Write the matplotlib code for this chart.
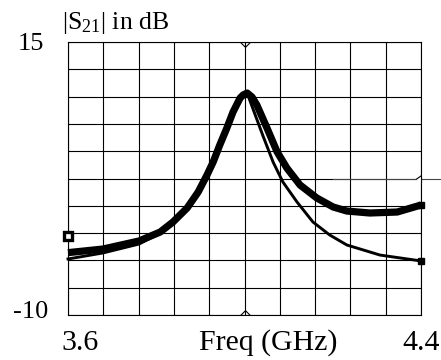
import matplotlib
matplotlib.use("Agg")
import matplotlib.pyplot as plt
import numpy as np

plt.rcParams["font.family"] = ["Liberation Serif", "DejaVu Serif"]
plt.rcParams["mathtext.fontset"] = "custom"
plt.rcParams["mathtext.rm"] = "Liberation Serif"
plt.rcParams["mathtext.it"] = "Liberation Serif:italic"

# frequency (GHz) / |S21| (dB)
freq_meas = [3.600, 3.679, 3.761, 3.809, 3.838, 3.870, 3.895, 3.915, 3.929, 3.944,
             3.960, 3.974, 3.990, 3.997, 4.006, 4.017, 4.028, 4.051, 4.074, 4.096,
             4.126, 4.164, 4.201, 4.232, 4.284, 4.346, 4.400]
s21_meas = [-4.29, -3.96, -3.22, -2.40, -1.48, -0.20, 1.26, 2.82, 4.01, 5.57,
            7.12, 8.59, 9.87, 10.15, 10.33, 9.96, 9.23, 7.12, 4.93, 3.46,
            1.90, 0.71, -0.11, -0.48, -0.66, -0.57, 0.07]

freq_sim = [3.600, 3.679, 3.761, 3.809, 3.838, 3.870, 3.895, 3.915, 3.929, 3.944,
            3.960, 3.974, 3.990, 3.997, 4.006, 4.019, 4.042, 4.065, 4.087, 4.119,
            4.155, 4.193, 4.232, 4.307, 4.400]
s21_sim = [-4.87, -4.32, -3.50, -2.49, -1.57, -0.29, 1.17, 2.73, 3.92, 5.48,
           7.03, 8.50, 9.78, 10.12, 10.33, 8.90, 6.39, 3.99, 2.18, 0.35,
           -1.48, -2.67, -3.59, -4.51, -5.05]

stray_freq = [3.6]
stray_s21 = [-2.77]

marker_freq = 4.0
ref_level = 2.5

xmin, xmax = 3.6, 4.4
ymin, ymax = -10, 15

fig = plt.figure(figsize=(4.41, 3.6), dpi=100)
ax = fig.add_axes([68 / 441, 45 / 360, 353 / 441, 273 / 360])
ax.set_xlim(xmin, xmax)
ax.set_ylim(ymin, ymax)

ax.set_xticks(np.linspace(xmin, xmax, 11))
ax.set_yticks(np.linspace(ymin, ymax, 11))
ax.tick_params(length=0, labelbottom=False, labelleft=False)
ax.grid(True, color="black", linewidth=0.8)
for sp in ax.spines.values():
    sp.set_linewidth(0.8)

ax.plot(freq_meas, s21_meas, color="black", linewidth=5.2, solid_capstyle="butt",
        solid_joinstyle="round", clip_on=False, zorder=3)
ax.plot(freq_sim, s21_sim, color="black", linewidth=2.1, clip_on=False, zorder=4)
ax.plot(freq_meas[-1:], s21_meas[-1:], "s", color="black", ms=5, clip_on=False, zorder=5)
ax.plot(freq_sim[-1:], s21_sim[-1:], "s", color="black", ms=5, clip_on=False, zorder=5)
ax.plot(stray_freq, stray_s21, "s", mfc="white", mec="black", ms=5.5, mew=2.4,
        clip_on=False, zorder=5)

# marker glyphs
down = [(-1, 0), (0, -1), (1, 0)]
up = [(-1, 0), (0, 1), (1, 0)]
left = [(-1, 0), (0, 0.7), (0, -0.7)]
ax.plot([marker_freq], [ymax], marker=down, ms=7, mfc="none", mec="black", mew=0.8,
        clip_on=False, zorder=6)
ax.plot([marker_freq], [ymin], marker=up, ms=7, mfc="none", mec="black", mew=0.8,
        clip_on=False, zorder=6)
ax.plot([4.2, 4.445], [ref_level, ref_level], color="#444444", linewidth=0.8,
        clip_on=False, zorder=6)
ax.plot([xmax], [ref_level], marker=left, ms=8, mfc="white", mec="black", mew=0.8,
        clip_on=False, zorder=7)

# labels
fig.text(44 / 441, 1 - 44 / 360, "15", ha="right", va="center", fontsize=19)
fig.text(48 / 441, 1 - 312 / 360, "-10", ha="right", va="center", fontsize=19)
fig.text(80 / 441, 1 - 343 / 360, "3.6", ha="center", va="center", fontsize=21.5)
fig.text(421 / 441, 1 - 343 / 360, "4.4", ha="center", va="center", fontsize=21.5)
fig.text(268 / 441, 1 - 343 / 360, "Freq (GHz)", ha="center", va="center", fontsize=21.5)
fig.text(62 / 441, 1 - 23 / 360, "|S$_{21}$| in dB", ha="left", va="center", fontsize=18.5)

fig.savefig("out.png", dpi=100, facecolor="white")
